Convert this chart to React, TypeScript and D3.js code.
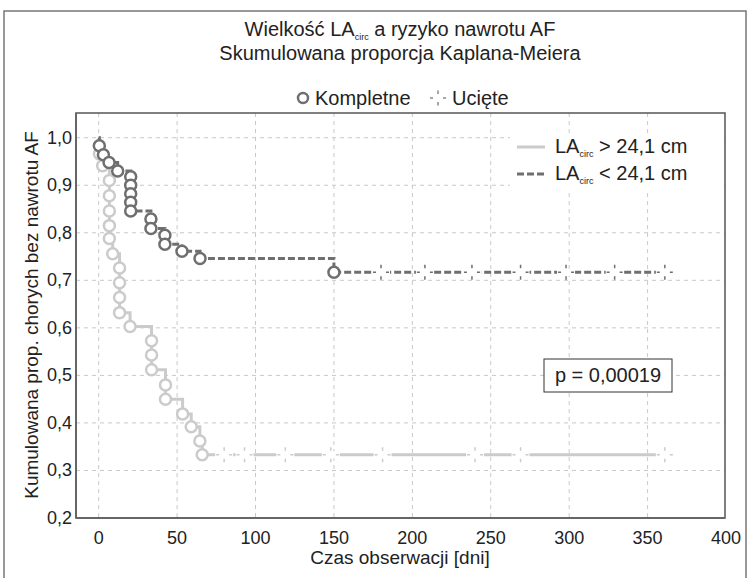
import React from "react";
import * as d3 from "d3";

const xTicks = [0, 50, 100, 150, 200, 250, 300, 350, 400];
const yTicks = [0.2, 0.3, 0.4, 0.5, 0.6, 0.7, 0.8, 0.9, 1.0];

const lightEventTimes = [0.5, 2.5, 6.8, 6.8, 6.8, 6.8, 6.8, 8.9, 13.3, 13.3, 13.3, 13.3, 20, 33.7, 33.7, 33.7, 42.6, 42.6, 53.5, 59, 64.5, 66];
const lightEventValues = [0.966, 0.941, 0.91, 0.878, 0.846, 0.815, 0.788, 0.756, 0.726, 0.695, 0.664, 0.632, 0.603, 0.573, 0.543, 0.512, 0.48, 0.45, 0.419, 0.392, 0.362, 0.333];
const lightCensorTimes = [80, 93, 119, 148, 181, 240, 269, 361];

const darkEventTimes = [0.4, 3, 6.6, 12.1, 20.4, 20.4, 20.4, 20.4, 20.4, 33.3, 33.3, 42.2, 42.2, 53.1, 64.6, 150];
const darkEventValues = [0.983, 0.964, 0.948, 0.93, 0.918, 0.9, 0.882, 0.864, 0.846, 0.829, 0.809, 0.795, 0.776, 0.761, 0.746, 0.717];
const darkCensorTimes = [180, 208, 238, 269, 298, 329, 361];

const FONT = "'Liberation Sans', Arial, sans-serif";
const LIGHT = "#cbcbcb";
const DARK = "#6f6f6f";

const PL = 76, PR = 725, PT = 113, PB = 518;

function fmt(v: number) {
  return v.toFixed(1).replace(".", ",");
}

function valueAt(times: number[], vals: number[], t: number) {
  let v = 1;
  for (let i = 0; i < times.length; i++) if (times[i] <= t) v = vals[i];
  return v;
}

function Censor({ cx, cy, color }: { cx: number; cy: number; color: string }) {
  return (
    <g>
      <rect x={cx - 9} y={cy - 3.5} width={18} height={7} fill="#fff" />
      <line x1={cx - 8} x2={cx - 5} y1={cy} y2={cy} stroke={color} strokeWidth={1.5} />
      <line x1={cx + 5} x2={cx + 8} y1={cy} y2={cy} stroke={color} strokeWidth={1.5} />
      <line x1={cx} x2={cx} y1={cy - 7.5} y2={cy - 4} stroke={color} strokeWidth={1.5} />
      <line x1={cx} x2={cx} y1={cy + 4} y2={cy + 7.5} stroke={color} strokeWidth={1.5} />
    </g>
  );
}

export default function App() {
  const x = d3.scaleLinear().domain([0, 400]).range([98.7, 726]);
  const y = d3.scaleLinear().domain([0.2, 1.0]).range([518, 137.7]);

  const line = d3
    .line<[number, number]>()
    .x((d) => x(d[0]))
    .y((d) => y(d[1]))
    .curve(d3.curveStepAfter);

  const buildPts = (times: number[], vals: number[], cens: number[]) => {
    const pts: [number, number][] = [[0, 1]];
    times.forEach((t, i) => pts.push([t, vals[i]]));
    const end = d3.max(cens) as number;
    pts.push([end, vals[vals.length - 1]]);
    return pts;
  };

  const lightPts = buildPts(lightEventTimes, lightEventValues, lightCensorTimes);
  const darkPts = buildPts(darkEventTimes, darkEventValues, darkCensorTimes);

  return (
    <svg width={748} height={578} style={{ display: "block", position: "absolute", left: 0, top: 0 }} fontFamily={FONT}>
      <rect x={0} y={0} width={748} height={578} fill="#fff" />
      {/* outer frame */}
      <rect x={4} y={11} width={742} height={600} fill="none" stroke="#777" strokeWidth={1.5} />

      {/* titles */}
      <text x={400} y={36} textAnchor="middle" fontSize={20} fill="#222">
        Wielkość LA<tspan fontSize={9} dy={4}>circ</tspan>
        <tspan dy={-4}> a ryzyko nawrotu AF</tspan>
      </text>
      <text x={400} y={60} textAnchor="middle" fontSize={20} fill="#222">
        Skumulowana proporcja Kaplana-Meiera
      </text>

      {/* top legend */}
      <circle cx={303} cy={98} r={5} fill="#fff" stroke={DARK} strokeWidth={2.5} />
      <text x={315} y={105} fontSize={20} fill="#222">Kompletne</text>
      <Censor cx={438} cy={98} color="#888" />
      <text x={452} y={105} fontSize={20} fill="#222">Ucięte</text>

      {/* grid */}
      {xTicks.filter((t) => t < 400).map((t) => (
        <line key={"gx" + t} x1={x(t)} x2={x(t)} y1={PT} y2={PB} stroke="#c8c8c8" strokeDasharray="4,4" strokeWidth={1} />
      ))}
      {yTicks.filter((t) => t > 0.2).map((t) => (
        <line key={"gy" + t} x1={PL} x2={PR} y1={y(t)} y2={y(t)} stroke="#c8c8c8" strokeDasharray="4,4" strokeWidth={1} />
      ))}

      {/* light curve */}
      <path d={line(lightPts) || ""} fill="none" stroke={LIGHT} strokeWidth={3} />
      {lightEventTimes.map((t, i) => (
        <circle key={"lc" + i} cx={x(t)} cy={y(lightEventValues[i])} r={5.5} fill="#fff" stroke={LIGHT} strokeWidth={2.5} />
      ))}
      {lightCensorTimes.map((t, i) => (
        <Censor key={"lcs" + i} cx={x(t)} cy={y(valueAt(lightEventTimes, lightEventValues, t))} color={LIGHT} />
      ))}

      {/* dark curve */}
      <path d={line(darkPts) || ""} fill="none" stroke={DARK} strokeWidth={3} strokeDasharray="7,3" />
      {darkEventTimes.map((t, i) => (
        <circle key={"dc" + i} cx={x(t)} cy={y(darkEventValues[i])} r={5.5} fill="#fff" stroke={DARK} strokeWidth={2.5} />
      ))}
      {darkCensorTimes.map((t, i) => (
        <Censor key={"dcs" + i} cx={x(t)} cy={y(valueAt(darkEventTimes, darkEventValues, t))} color={DARK} />
      ))}

      {/* plot frame */}
      <rect x={PL} y={PT} width={PR - PL} height={PB - PT} fill="none" stroke="#555" strokeWidth={1.5} />
      <line x1={PL} x2={PL} y1={PT} y2={PB} stroke="#666" strokeWidth={2} />
      <line x1={PL} x2={PR} y1={PB} y2={PB} stroke="#666" strokeWidth={2} />

      {/* y ticks */}
      {yTicks.map((t) => (
        <text key={"yt" + t} x={72} y={y(t) + 6} textAnchor="end" fontSize={18} fill="#222">
          {fmt(t)}
        </text>
      ))}
      {/* x ticks */}
      {xTicks.map((t) => (
        <text key={"xt" + t} x={x(t)} y={544} textAnchor="middle" fontSize={18} fill="#222">
          {t}
        </text>
      ))}

      {/* axis titles */}
      <text x={400} y={564} textAnchor="middle" fontSize={19} fill="#222">Czas obserwacji [dni]</text>
      <text transform={`translate(38,315) rotate(-90)`} textAnchor="middle" fontSize={19} fill="#222">
        Kumulowana prop. chorych bez nawrotu AF
      </text>

      {/* inner legend */}
      <rect x={510} y={133} width={212} height={56} fill="#fff" />
      <line x1={517} x2={545} y1={147} y2={147} stroke={LIGHT} strokeWidth={3} />
      <text x={555} y={153} fontSize={20} fill="#222">
        LA<tspan fontSize={9} dy={4}>circ</tspan>
        <tspan dy={-4}> &gt; 24,1 cm</tspan>
      </text>
      <line x1={517} x2={545} y1={174} y2={174} stroke={DARK} strokeWidth={3} strokeDasharray="7,3" />
      <text x={555} y={180} fontSize={20} fill="#222">
        LA<tspan fontSize={9} dy={4}>circ</tspan>
        <tspan dy={-4}> &lt; 24,1 cm</tspan>
      </text>

      {/* p value box */}
      <rect x={544} y={359} width={128} height={33} fill="#fff" stroke="#333" strokeWidth={1} />
      <text x={608} y={382} textAnchor="middle" fontSize={20} fill="#222">p = 0,00019</text>
    </svg>
  );
}
